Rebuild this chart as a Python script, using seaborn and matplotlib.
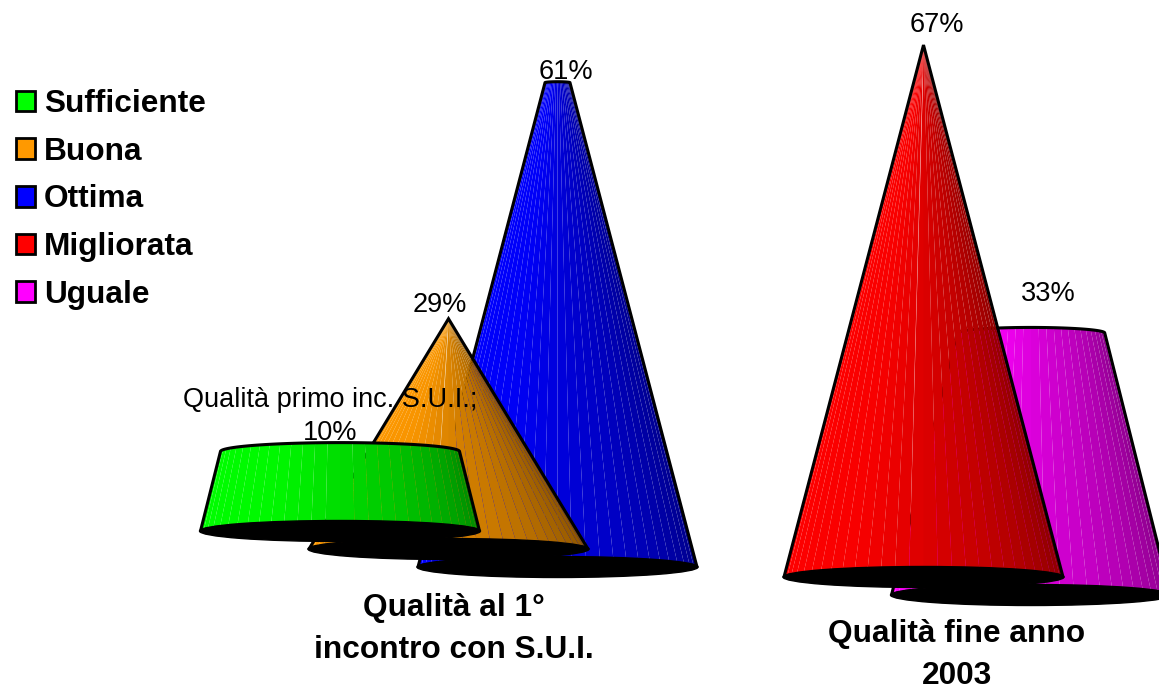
import numpy as np
import matplotlib
matplotlib.use('Agg')
import matplotlib.pyplot as plt
from matplotlib.colors import to_rgb
from matplotlib.patches import Ellipse, Patch
import seaborn as sns

categorie = ['Sufficiente', 'Buona', 'Ottima', 'Migliorata', 'Uguale']
valori = [10, 29, 61, 67, 33]
colori = ['#00ff00', '#ff9900', '#0000ff', '#ff0000', '#ff00ff']

# layout dei coni (pixel del riferimento)
centro_x = [340, 448.5, 557.5, 923.5, 1031]
base_y = [531, 549, 567, 577, 595]
punta = [70, 29, 67, 67, 70]  # valore a cui il cono si chiude
ordine = [2, 1, 0, 4, 3]  # dal fondo verso il davanti
etichette_xy = [(330, 433), (440, 305), (566, 72), (937, 25), (1048, 294)]

PX_PER_PCT = 7.94
RAGGIO = 139.5
ELL = 10.5
N_STRISCE = 30

sns.set_theme(style='white')
plt.rcParams['font.family'] = ['Liberation Sans', 'DejaVu Sans']

fig = plt.figure(figsize=(11.59, 6.87), dpi=100)
ax = fig.add_axes([0, 0, 1, 1])
ax.set_xlim(0, 1159)
ax.set_ylim(687, 0)
ax.axis('off')


def scurisci(colore, f):
    return tuple(c * f for c in to_rgb(colore))


def disegna_cono(i):
    cx, y0 = centro_x[i], base_y[i]
    y1 = y0 - valori[i] * PX_PER_PCT
    r1 = RAGGIO * (1 - valori[i] / punta[i])
    e1 = ELL * r1 / RAGGIO
    phi = np.linspace(0, np.pi, N_STRISCE + 1)
    sfumatura = sns.blend_palette([colori[i], scurisci(colori[i], 0.97), scurisci(colori[i], 0.76),
                                   scurisci(colori[i], 0.52)], N_STRISCE)
    for k in range(N_STRISCE):
        a, b = phi[k], phi[k + 1]
        xs = [cx - RAGGIO * np.cos(a), cx - RAGGIO * np.cos(b), cx - r1 * np.cos(b), cx - r1 * np.cos(a)]
        ys = [y0, y0, y1 - e1 * np.sin(b), y1 - e1 * np.sin(a)]
        ax.fill(xs, ys, color=sfumatura[k], linewidth=0, zorder=2 + ordine.index(i))
    z = 2.5 + ordine.index(i)
    # contorno
    arco = np.linspace(0, np.pi, 60)
    xc = np.r_[cx - RAGGIO, cx - r1 * np.cos(arco), cx + RAGGIO]
    yc = np.r_[y0, y1 - e1 * np.sin(arco), y0]
    ax.plot(xc, yc, color='black', lw=2.2, zorder=z, solid_joinstyle='miter')
    ax.add_patch(Ellipse((cx, y0), 2 * RAGGIO + 2, 2 * ELL, color='black', zorder=z))


for i in ordine:
    disegna_cono(i)

# etichette dati
for i, v in enumerate(valori):
    testo = f'{v}%'
    ax.text(*etichette_xy[i], testo, ha='center', va='center', fontsize=19.5, color='black', zorder=20)
ax.text(330, 400, 'Qualità primo inc. S.U.I.;', ha='center', va='center', fontsize=19.5, color='black', zorder=20)

# titoli gruppi
ax.text(454, 629, 'Qualità al 1°\nincontro con S.U.I.', ha='center', va='center', fontsize=22.8,
        fontweight='bold', linespacing=1.5, color='black', zorder=20)
ax.text(957, 655, 'Qualità fine anno\n2003', ha='center', va='center', fontsize=22.8,
        fontweight='bold', linespacing=1.5, color='black', zorder=20)

maniglie = [Patch(facecolor=c, edgecolor='black', linewidth=2, label=n) for c, n in zip(colori, categorie)]
leg = ax.legend(handles=maniglie, loc='upper left', bbox_to_anchor=(0.0135, 0.8705), frameon=False,
                prop={'weight': 'bold', 'size': 22.8}, handlelength=0.62, handleheight=0.62,
                handletextpad=0.27, labelspacing=0.56, borderpad=0, borderaxespad=0, labelcolor='black')

sns.despine(fig=fig, left=True, bottom=True)
fig.savefig('out.png', dpi=100, facecolor='white')
